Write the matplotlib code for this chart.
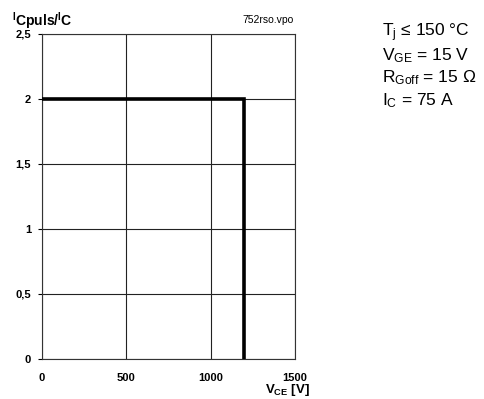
import matplotlib
matplotlib.use("Agg")
import matplotlib.pyplot as plt

plt.rcParams['font.family'] = ['Liberation Sans', 'DejaVu Sans']
plt.rcParams['mathtext.fontset'] = 'custom'
plt.rcParams['mathtext.rm'] = 'Liberation Sans'
plt.rcParams['mathtext.it'] = 'Liberation Sans'
plt.rcParams['mathtext.bf'] = 'Liberation Sans:bold'

# Safe operating area boundary: I_Cpuls/I_C versus V_CE
vce = [0, 1200, 1200]
ratio = [2, 2, 0]

x_ticks = [0, 500, 1000, 1500]
x_labels = ["0", "500", "1000", "1500"]
y_ticks = [0, 0.5, 1, 1.5, 2, 2.5]
y_labels = ["0", "0,5", "1", "1,5", "2", "2,5"]

conditions = [
    r"T$_\mathregular{j}$ ≤ 150 °C",
    r"V$_\mathregular{GE}$ = 15 V",
    r"R$_\mathregular{Goff}$ = 15 Ω",
    r"I$_\mathregular{C}$ = 75 A",
]

fig = plt.figure(figsize=(4.84, 3.99), dpi=100)
ax = fig.add_axes([0.0868, 0.1003, 0.5227, 0.8145])

ax.plot(vce, ratio, color="black", linewidth=2.6, solid_joinstyle="miter", zorder=3)

ax.set_xlim(0, 1500)
ax.set_ylim(0, 2.5)
ax.set_xticks(x_ticks)
ax.set_xticklabels(x_labels, fontweight="bold", fontsize=8)
ax.set_yticks(y_ticks)
ax.set_yticklabels(y_labels, fontweight="bold", fontsize=8)
ax.tick_params(axis="x", length=0, pad=10)
ax.tick_params(axis="y", length=3, width=0.8, pad=5, direction="out")
ax.grid(True, color="#222222", linewidth=0.8)
for s in ax.spines.values():
    s.set_linewidth(0.8)
    s.set_color("#333333")

fig.text(0.024, 0.948, r"$\mathbf{^{I}Cpuls/^{I}C}$", fontsize=10,
         ha="left", va="center")
fig.text(0.554, 0.95, "752rso.vpo", fontsize=7.5, ha="center", va="center")
fig.text(0.593, 0.022, r"V$_\mathbf{CE}$ [V]", fontsize=9.5, fontweight="bold",
         ha="center", va="center")

for i, t in enumerate(conditions):
    fig.text(0.789, 0.917 - i * 0.0563, t, fontsize=12.5, ha="left", va="center")

fig.savefig("out.png", dpi=100, facecolor="white")
